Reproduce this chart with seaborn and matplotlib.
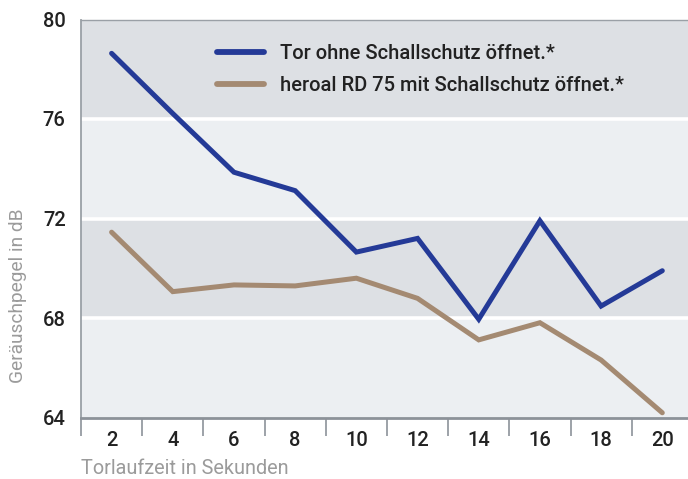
import matplotlib
matplotlib.use("Agg")
import matplotlib.pyplot as plt
from matplotlib.ticker import FixedLocator
from matplotlib.lines import Line2D
import seaborn as sns
import pandas as pd

# ---- data ----
seconds = ["2", "4", "6", "8", "10", "12", "14", "16", "18", "20"]
tor_ohne = [78.64, 76.22, 73.86, 73.12, 70.65, 71.20, 67.95, 71.91, 68.48, 69.90]
heroal_rd75 = [71.45, 69.06, 69.33, 69.29, 69.60, 68.79, 67.12, 67.81, 66.31, 64.19]
series_names = ["Tor ohne Schallschutz öffnet.*", "heroal RD 75 mit Schallschutz öffnet.*"]
y_ticks = [64, 68, 72, 76, 80]

sns.set_theme(style="white")
plt.rcParams["font.family"] = ["Roboto", "DejaVu Sans"]
plt.rcParams["font.stretch"] = "condensed"

colors = {series_names[0]: "#243a97", series_names[1]: "#a48a72"}

df = pd.DataFrame({
    "pos": list(range(len(seconds))) * 2,
    "value": tor_ohne + heroal_rd75,
    "series": [series_names[0]] * len(seconds) + [series_names[1]] * len(seconds),
})

fig = plt.figure(figsize=(6.88, 4.79), dpi=100)
W, H = 688, 479
ax = fig.add_axes([81 / W, 1 - 417.5 / H, 1 - 81 / W, (417.5 - 19.5) / H])

# background bands
band_cols = ["#eceff2", "#dde0e4", "#eceff2", "#dde0e4"]
for lo, hi, c in zip(y_ticks[:-1], y_ticks[1:], band_cols):
    ax.axhspan(lo, hi, color=c, lw=0, zorder=0)
for yv in y_ticks[1:-1]:
    ax.axhline(yv, color="white", lw=2.6, zorder=1)

sns.lineplot(data=df, x="pos", y="value", hue="series", hue_order=series_names,
             palette=colors, linewidth=3.6, ax=ax, legend=False, zorder=3,
             solid_joinstyle="miter")

ax.set_xlim(-0.5, 9.42)
ax.set_ylim(64, 80)

ax.set_yticks(y_ticks)
ax.set_yticklabels([str(v) for v in y_ticks], fontweight="medium")
ax.tick_params(axis="y", length=0, pad=11, labelsize=14.5, labelcolor="#222222")

ax.set_xticks(range(len(seconds)))
ax.set_xticklabels(seconds, fontweight="medium")
ax.xaxis.set_minor_locator(FixedLocator([i - 0.5 for i in range(len(seconds) + 1)]))
ax.tick_params(axis="x", which="major", length=0, pad=10, labelsize=14.5, labelcolor="#222222")
ax.tick_params(axis="x", which="minor", length=13, width=1.2, color="#8c9299", bottom=True)

ax.spines["right"].set_visible(False)
ax.spines["left"].set_color("#9aa0a6")
ax.spines["left"].set_linewidth(1.3)
ax.spines["top"].set_color("#9aa0a6")
ax.spines["top"].set_linewidth(1.0)
ax.spines["bottom"].set_color("#8c9299")
ax.spines["bottom"].set_linewidth(2.0)

ax.set_xlabel("Torlaufzeit in Sekunden", fontsize=14.3, color="#9b9b9b", loc="left")
ax.xaxis.set_label_coords(0, -(468.5 - 417.5) / 398, transform=ax.transAxes)
ax.xaxis.label.set_va("center")
ax.set_ylabel("Geräuschpegel in dB", fontsize=13.8, color="#9b9b9b", loc="bottom")
ax.yaxis.set_label_coords(-(81 - 18) / 607, (417.5 - 383) / 398)
ax.yaxis.label.set_va("center")

handles = [Line2D([0], [0], color=colors[n], lw=4.2) for n in series_names]
leg = ax.legend(handles, series_names, loc="upper left",
                bbox_to_anchor=(217 / W, 1 - 44 / H), bbox_transform=fig.transFigure,
                frameon=False, handlelength=2.35, handletextpad=0.8,
                labelspacing=0.64, borderpad=0, borderaxespad=0,
                prop={"size": 14.5, "weight": "medium"})
for t in leg.get_texts():
    t.set_color("#222222")

fig.savefig("out.png", dpi=100)
